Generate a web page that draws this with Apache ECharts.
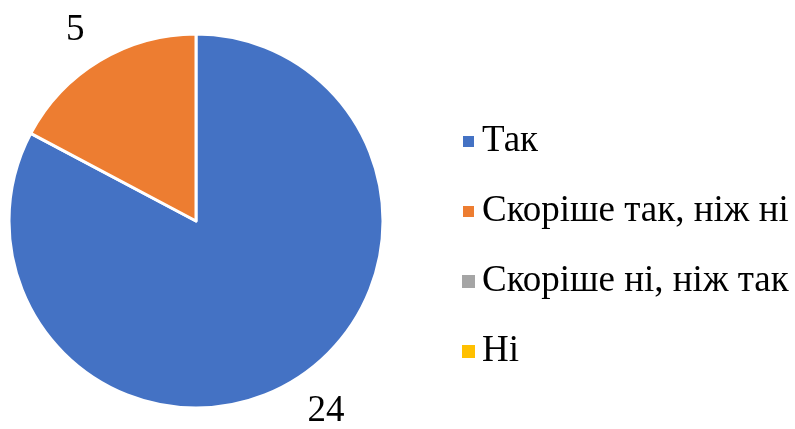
<!DOCTYPE html>
<html><head><meta charset="utf-8">
<script src="https://cdn.jsdelivr.net/npm/echarts@6/dist/echarts.min.js"></script>
<style>html,body{margin:0;padding:0;background:#fff}#c{width:795px;height:429px}</style>
</head><body><div id="c"></div>
<script>
const categories = ["Так", "Скоріше так, ніж ні", "Скоріше ні, ніж так", "Ні"];
const values = [24, 5, 0, 0];
const colors = ["#4472C4", "#ED7D31", "#A5A5A5", "#FFC000"];

const chart = echarts.init(document.getElementById('c'));
const data = categories.map((n, i) => ({
  name: n, value: values[i],
  label: { show: values[i] > 0 },
  itemStyle: values[i] > 0 ? {} : { borderWidth: 0 }
}));
chart.setOption({
  animation: false,
  color: colors,
  legend: {
    orient: 'vertical', left: 456, top: 118,
    itemWidth: 13, itemHeight: 13, itemGap: 33, icon: 'rect',
    textStyle: { fontFamily: 'Liberation Serif', fontSize: 37, color: '#000', padding: [0,0,0,2] },
    data: categories
  },
  series: [{
    type: 'pie', center: [196, 221], radius: 187, startAngle: 90, clockwise: true,
    avoidLabelOverlap: false,
    itemStyle: { borderColor: '#fff', borderWidth: 3 },
    label: { position: 'outside', fontFamily: 'Liberation Serif', fontSize: 37, color: '#000', formatter: '{c}', distanceToLabelLine: -3 },
    labelLine: { show: false, length: 35, length2: 0 },
    emphasis: { disabled: true },
    data: data
  }]
});
</script></body></html>
